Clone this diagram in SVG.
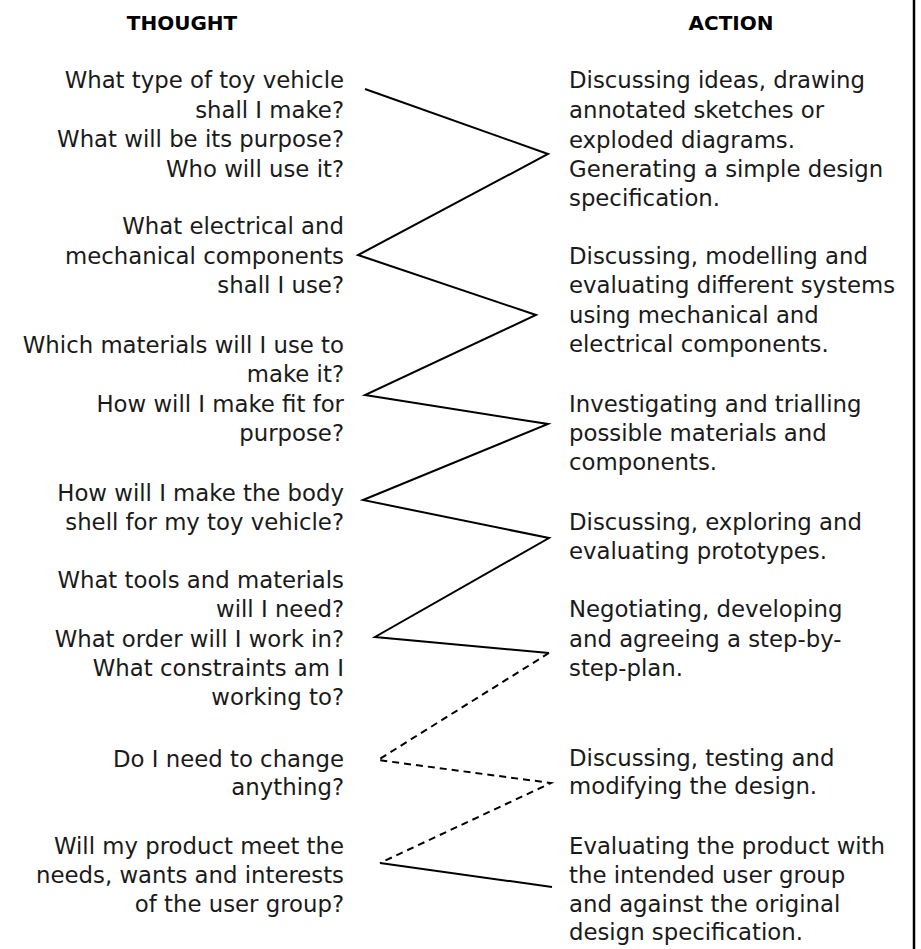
<svg xmlns="http://www.w3.org/2000/svg" width="921" height="949" viewBox="0 0 921 949">
<style>
.t{font-family:"DejaVu Sans","Liberation Sans",sans-serif;font-size:22.8px;fill:#1a1a1a}
.l{text-anchor:end}
.h{font-family:"DejaVu Sans","Liberation Sans",sans-serif;font-size:20px;font-weight:bold;fill:#000;text-anchor:middle}
.ln{fill:none;stroke:#000;stroke-width:2;stroke-linejoin:miter}
.ds{stroke-dasharray:7,5}
</style>
<rect width="921" height="949" fill="#fff"/>
<line x1="914" y1="0" x2="914" y2="949" stroke="#000" stroke-width="2.5"/>
<g id="headers">
<text class="h" x="182" y="30">THOUGHT</text>
<text class="h" x="731" y="30">ACTION</text>
</g>
<g id="connectors">
<polyline class="ln" points="365,89 548,154 358,255 536,315 365,395 548,424 363,500 549,538 375,637 549,653"/>
<polyline class="ln ds" points="549,653 378,760 551,783 380,863"/>
<line class="ln" x1="380" y1="863" x2="552" y2="887"/>
</g>
<g id="thought1"><text class="t l"><tspan x="344" y="88">What type of toy vehicle</tspan><tspan x="344" y="118">shall I make?</tspan><tspan x="344" y="147">What will be its purpose?</tspan><tspan x="344" y="177">Who will use it?</tspan></text></g>
<g id="thought2"><text class="t l"><tspan x="344" y="234">What electrical and</tspan><tspan x="344" y="264">mechanical components</tspan><tspan x="344" y="293">shall I use?</tspan></text></g>
<g id="thought3"><text class="t l"><tspan x="344" y="353">Which materials will I use to</tspan><tspan x="344" y="382">make it?</tspan><tspan x="344" y="412">How will I make fit for</tspan><tspan x="344" y="441">purpose?</tspan></text></g>
<g id="thought4"><text class="t l"><tspan x="344" y="501">How will I make the body</tspan><tspan x="344" y="530">shell for my toy vehicle?</tspan></text></g>
<g id="thought5"><text class="t l"><tspan x="344" y="588">What tools and materials</tspan><tspan x="344" y="617">will I need?</tspan><tspan x="344" y="647">What order will I work in?</tspan><tspan x="344" y="676">What constraints am I</tspan><tspan x="344" y="705">working to?</tspan></text></g>
<g id="thought6"><text class="t l"><tspan x="344" y="767">Do I need to change</tspan><tspan x="344" y="795">anything?</tspan></text></g>
<g id="thought7"><text class="t l"><tspan x="344" y="854">Will my product meet the</tspan><tspan x="344" y="883">needs, wants and interests</tspan><tspan x="344" y="912">of the user group?</tspan></text></g>
<g id="action1"><text class="t"><tspan x="569" y="88">Discussing ideas, drawing</tspan><tspan x="569" y="118">annotated sketches or</tspan><tspan x="569" y="148">exploded diagrams.</tspan><tspan x="569" y="177">Generating a simple design</tspan><tspan x="569" y="206">specification.</tspan></text></g>
<g id="action2"><text class="t"><tspan x="569" y="264">Discussing, modelling and</tspan><tspan x="569" y="293">evaluating different systems</tspan><tspan x="569" y="323">using mechanical and</tspan><tspan x="569" y="352">electrical components.</tspan></text></g>
<g id="action3"><text class="t"><tspan x="569" y="412">Investigating and trialling</tspan><tspan x="569" y="441">possible materials and</tspan><tspan x="569" y="470">components.</tspan></text></g>
<g id="action4"><text class="t"><tspan x="569" y="530">Discussing, exploring and</tspan><tspan x="569" y="559">evaluating prototypes.</tspan></text></g>
<g id="action5"><text class="t"><tspan x="569" y="617">Negotiating, developing</tspan><tspan x="569" y="647">and agreeing a step-by-</tspan><tspan x="569" y="676">step-plan.</tspan></text></g>
<g id="action6"><text class="t"><tspan x="569" y="766">Discussing, testing and</tspan><tspan x="569" y="794">modifying the design.</tspan></text></g>
<g id="action7"><text class="t"><tspan x="569" y="854">Evaluating the product with</tspan><tspan x="569" y="883">the intended user group</tspan><tspan x="569" y="912">and against the original</tspan><tspan x="569" y="940">design specification.</tspan></text></g>
</svg>
